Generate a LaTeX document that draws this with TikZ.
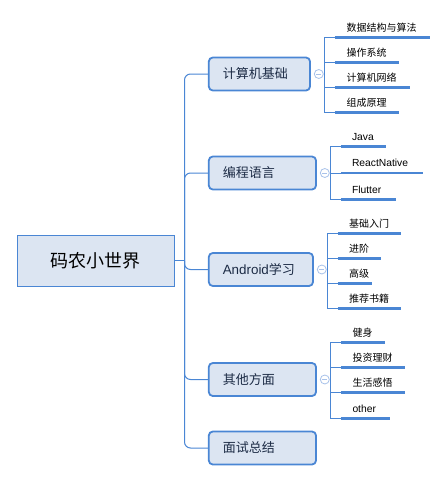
\documentclass[tikz,border=0pt]{standalone}
\usepackage{fontspec}
\setmainfont{Noto Sans CJK SC}
\newfontfamily\latin{Liberation Sans}[Scale=1.03]
\definecolor{boxfill}{HTML}{DCE5F2}
\definecolor{linkblue}{HTML}{4A86D4}
\definecolor{foldblue}{HTML}{A8C2EA}
\definecolor{topictext}{HTML}{1C2B45}

\begin{document}
\begin{tikzpicture}[x=1pt,y=-1pt,
    link/.style={draw=linkblue, line width=1pt},
    rootbox/.style={draw=linkblue, fill=boxfill, line width=1pt, minimum width=157pt,
                    minimum height=51pt, inner sep=0pt, font=\fontsize{18}{20}\selectfont},
    topic/.style={draw=linkblue, fill=boxfill, line width=1.8pt, rounded corners=4pt,
                  anchor=west, minimum height=33pt, inner xsep=14pt, text width=#1,
                  align=left, text=topictext, font=\fontsize{13}{15}\selectfont},
    fold/.style={circle, draw=foldblue, fill=white, line width=0.8pt, minimum size=9pt,
                 inner sep=0pt, path picture={\draw[foldblue, line width=0.8pt]
                 ([xshift=2pt]path picture bounding box.west) --
                 ([xshift=-2pt]path picture bounding box.east);}},
    leaf/.style={anchor=south west, inner xsep=0pt, inner ysep=6pt, text depth=0pt,
                 font=\fontsize{10}{12}\selectfont},
    underline/.style={draw=linkblue, line width=2.6pt}]
\useasboundingbox (0,0) rectangle (446,482);

\node[rootbox] (root) at (95.5,260.5) {码农小世界};

\node[topic=73.2pt] (t1) at (207.9,74) {计算机基础};
\node[topic=79.2pt] (t2) at (207.9,173) {编程语言};
\node[topic=76.2pt] (t3) at (207.9,269.5) {{\latin Android}学习};
\node[topic=79.2pt] (t4) at (207.9,379.5) {其他方面};
\node[topic=79.2pt] (t5) at (207.9,448) {面试总结};

\coordinate (hub) at ([xshift=10pt]root.east);
\draw[link] (root.east) -- (hub);
\foreach \t in {t1,t2,t3,t4,t5}
  \draw[link, rounded corners=6pt] (hub) |- (\t.west);

\foreach \t in {t1,t2,t3,t4} {
  \node[fold] (f\t) at ([xshift=7.9pt]\t.east) {};
  \coordinate (j\t) at ([xshift=6pt]f\t.center);
  \draw[link] (f\t.east) -- (j\t);
}

\foreach \y/\len/\txt [count=\i] in {37.5/95/数据结构与算法, 62.5/64/操作系统,
                                     87.5/75/计算机网络, 112.5/64/组成原理} {
  \node[leaf] (la\i) at ([xshift=21.5pt]jt1 |- 0,\y) {\txt};
  \draw[underline] ([xshift=-11.5pt]la\i.south west) -- ++(\len,0);
  \draw[link] (jt1) |- ([xshift=-11.5pt]la\i.south west);
}
\foreach \y/\len/\txt [count=\i] in {146.7/45/Java, 173/82/ReactNative, 199.3/55/Flutter} {
  \node[leaf] (lb\i) at ([xshift=21pt]jt2 |- 0,\y) {\latin\txt};
  \draw[underline] ([xshift=-11pt]lb\i.south west) -- ++(\len,0);
  \draw[link] (jt2) |- ([xshift=-11pt]lb\i.south west);
}
\foreach \y/\len/\txt [count=\i] in {233.3/63.6/基础入门, 258.3/43.6/进阶,
                                     283.3/34.3/高级, 308.3/63.6/推荐书籍} {
  \node[leaf] (lc\i) at ([xshift=21pt]jt3 |- 0,\y) {\txt};
  \draw[underline] ([xshift=-11pt]lc\i.south west) -- ++(\len,0);
  \draw[link] (jt3) |- ([xshift=-11pt]lc\i.south west);
}
\foreach \y/\len/\txt [count=\i] in {342.3/44/健身, 367.3/64/投资理财,
                                     392.3/64/生活感悟, 418.3/49/{\latin other}} {
  \node[leaf] (ld\i) at ([xshift=21.5pt]jt4 |- 0,\y) {\txt};
  \draw[underline] ([xshift=-11.5pt]ld\i.south west) -- ++(\len,0);
  \draw[link] (jt4) |- ([xshift=-11.5pt]ld\i.south west);
}
\end{tikzpicture}
\end{document}
